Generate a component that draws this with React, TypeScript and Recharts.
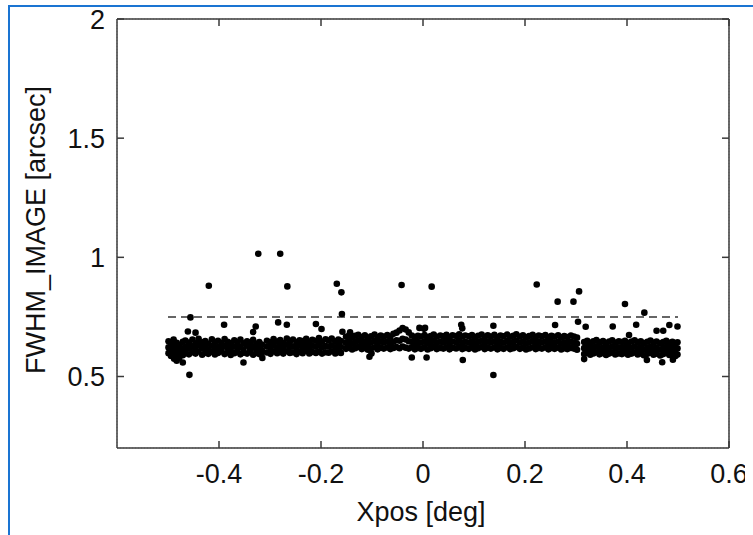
import React from 'react';
import { ScatterChart, Scatter, XAxis, YAxis, CartesianGrid, ReferenceLine } from 'recharts';

// Tick labels
const xTicks = [-0.4, -0.2, 0, 0.2, 0.4, 0.6];
const yTicks = [0.5, 1, 1.5, 2];
const xDomain = [-0.6, 0.6];
const yDomain = [0.2, 2];

// Threshold line (dashed)
const thresholdY = 0.75;
const thresholdX = [-0.5, 0.5];

// Main band columns: [x, y1, y2, y3]
const bandLeft: number[][] = [
  [-0.499, 0.598, 0.622, 0.648], [-0.494, 0.586, 0.611, 0.637], [-0.489, 0.603, 0.629, 0.655],
  [-0.483, 0.592, 0.617, 0.641], [-0.477, 0.607, 0.632, 0.600], [-0.471, 0.589, 0.614, 0.646],
  [-0.466, 0.598, 0.625, 0.651], [-0.459, 0.593, 0.619, 0.642], [-0.452, 0.602, 0.627, 0.655],
  [-0.446, 0.596, 0.615, 0.639], [-0.440, 0.605, 0.631, 0.658], [-0.433, 0.591, 0.620, 0.644],
  [-0.427, 0.600, 0.626, 0.649], [-0.421, 0.595, 0.613, 0.638], [-0.414, 0.603, 0.629, 0.656],
  [-0.408, 0.592, 0.618, 0.645], [-0.402, 0.599, 0.624, 0.650], [-0.395, 0.605, 0.616, 0.641],
  [-0.389, 0.594, 0.628, 0.657], [-0.383, 0.601, 0.621, 0.646], [-0.377, 0.590, 0.615, 0.640],
  [-0.370, 0.598, 0.626, 0.652], [-0.364, 0.603, 0.619, 0.643], [-0.358, 0.593, 0.624, 0.655],
  [-0.352, 0.600, 0.613, 0.639], [-0.345, 0.596, 0.629, 0.648], [-0.339, 0.604, 0.618, 0.642],
  [-0.333, 0.591, 0.622, 0.654], [-0.327, 0.599, 0.615, 0.637], [-0.321, 0.594, 0.620, 0.645],
  [-0.316, 0.602, 0.611, 0.634],
];

const bandMidLeft: number[][] = [
  [-0.306, 0.601, 0.626, 0.650], [-0.299, 0.595, 0.619, 0.644], [-0.293, 0.605, 0.631, 0.657],
  [-0.286, 0.598, 0.622, 0.647], [-0.280, 0.603, 0.628, 0.653], [-0.274, 0.596, 0.617, 0.641],
  [-0.267, 0.606, 0.633, 0.659], [-0.261, 0.599, 0.624, 0.648], [-0.255, 0.602, 0.627, 0.655],
  [-0.248, 0.594, 0.620, 0.645], [-0.242, 0.604, 0.630, 0.652], [-0.236, 0.598, 0.623, 0.649],
  [-0.229, 0.607, 0.632, 0.658], [-0.223, 0.597, 0.621, 0.646], [-0.217, 0.603, 0.629, 0.654],
  [-0.210, 0.599, 0.625, 0.650], [-0.204, 0.605, 0.634, 0.661], [-0.198, 0.596, 0.622, 0.647],
  [-0.191, 0.602, 0.628, 0.656], [-0.185, 0.600, 0.626, 0.651], [-0.179, 0.606, 0.631, 0.659],
  [-0.172, 0.597, 0.623, 0.648], [-0.166, 0.603, 0.629, 0.655], [-0.161, 0.599, 0.624, 0.649],
];

const bandCenter: number[][] = [
  [-0.151, 0.616, 0.641, 0.667], [-0.145, 0.621, 0.647, 0.672], [-0.139, 0.613, 0.638, 0.664],
  [-0.133, 0.619, 0.645, 0.671], [-0.127, 0.624, 0.650, 0.675], [-0.120, 0.615, 0.640, 0.666],
  [-0.114, 0.620, 0.646, 0.673], [-0.108, 0.612, 0.637, 0.662], [-0.102, 0.618, 0.644, 0.669],
  [-0.095, 0.623, 0.649, 0.676], [-0.089, 0.614, 0.639, 0.665], [-0.083, 0.621, 0.647, 0.672],
  [-0.077, 0.617, 0.643, 0.668], [-0.070, 0.622, 0.648, 0.674], [-0.064, 0.615, 0.641, 0.667],
  [-0.058, 0.620, 0.646, 0.679], [-0.052, 0.624, 0.652, 0.684], [-0.046, 0.619, 0.650, 0.693],
  [-0.040, 0.626, 0.658, 0.703], [-0.034, 0.621, 0.655, 0.697], [-0.028, 0.617, 0.648, 0.685],
  [-0.022, 0.623, 0.646, 0.672], [-0.016, 0.614, 0.640, 0.666], [-0.010, 0.620, 0.645, 0.671],
  [-0.004, 0.616, 0.642, 0.668], [0.003, 0.622, 0.648, 0.674], [0.009, 0.613, 0.639, 0.665],
  [0.015, 0.619, 0.645, 0.670], [0.021, 0.624, 0.650, 0.676], [0.027, 0.615, 0.641, 0.667],
  [0.034, 0.620, 0.646, 0.672], [0.040, 0.617, 0.643, 0.669], [0.046, 0.623, 0.649, 0.675],
  [0.052, 0.614, 0.640, 0.666], [0.058, 0.621, 0.647, 0.673], [0.065, 0.618, 0.644, 0.670],
  [0.071, 0.624, 0.651, 0.677], [0.077, 0.615, 0.641, 0.668], [0.083, 0.620, 0.646, 0.672],
  [0.090, 0.616, 0.642, 0.669], [0.096, 0.622, 0.648, 0.674], [0.102, 0.613, 0.638, 0.664],
  [0.108, 0.619, 0.645, 0.671], [0.115, 0.624, 0.650, 0.676], [0.121, 0.615, 0.640, 0.666],
  [0.127, 0.621, 0.647, 0.673], [0.133, 0.617, 0.643, 0.668], [0.140, 0.622, 0.648, 0.675],
  [0.146, 0.614, 0.639, 0.665], [0.152, 0.620, 0.646, 0.672], [0.158, 0.616, 0.642, 0.669],
  [0.165, 0.623, 0.649, 0.676], [0.171, 0.615, 0.641, 0.667], [0.177, 0.619, 0.645, 0.671],
  [0.183, 0.624, 0.651, 0.677], [0.190, 0.616, 0.642, 0.668], [0.196, 0.621, 0.647, 0.673],
  [0.202, 0.613, 0.638, 0.664], [0.208, 0.618, 0.644, 0.670], [0.215, 0.623, 0.649, 0.675],
  [0.221, 0.615, 0.640, 0.666], [0.227, 0.620, 0.646, 0.672], [0.233, 0.617, 0.643, 0.669],
  [0.240, 0.622, 0.648, 0.674], [0.246, 0.614, 0.639, 0.665], [0.252, 0.620, 0.645, 0.671],
  [0.258, 0.616, 0.641, 0.667], [0.265, 0.621, 0.647, 0.673], [0.271, 0.613, 0.638, 0.664],
  [0.277, 0.619, 0.644, 0.670], [0.283, 0.615, 0.640, 0.666], [0.290, 0.620, 0.646, 0.672],
  [0.296, 0.617, 0.642, 0.668], [0.302, 0.612, 0.637, 0.663],
];

const bandRight: number[][] = [
  [0.316, 0.594, 0.619, 0.645], [0.322, 0.599, 0.624, 0.650], [0.328, 0.591, 0.616, 0.641],
  [0.334, 0.597, 0.622, 0.648], [0.340, 0.602, 0.627, 0.653], [0.346, 0.593, 0.618, 0.643],
  [0.353, 0.598, 0.623, 0.649], [0.359, 0.590, 0.615, 0.640], [0.365, 0.596, 0.621, 0.647],
  [0.371, 0.601, 0.626, 0.652], [0.377, 0.592, 0.617, 0.642], [0.384, 0.597, 0.622, 0.648],
  [0.390, 0.594, 0.619, 0.645], [0.396, 0.599, 0.624, 0.650], [0.402, 0.591, 0.616, 0.641],
  [0.409, 0.596, 0.621, 0.647], [0.415, 0.601, 0.626, 0.652], [0.421, 0.592, 0.617, 0.643],
  [0.427, 0.597, 0.622, 0.648], [0.433, 0.589, 0.614, 0.640], [0.440, 0.595, 0.620, 0.646],
  [0.446, 0.600, 0.625, 0.651], [0.452, 0.591, 0.616, 0.642], [0.458, 0.596, 0.621, 0.647],
  [0.465, 0.588, 0.613, 0.639], [0.471, 0.594, 0.619, 0.645], [0.477, 0.599, 0.624, 0.650],
  [0.483, 0.590, 0.615, 0.641], [0.489, 0.595, 0.620, 0.646], [0.495, 0.586, 0.612, 0.638],
  [0.499, 0.592, 0.618, 0.644],
];

// Scattered points off the main band: [x, y]
const outliers: number[][] = [
  [-0.420, 0.881], [-0.323, 1.015], [-0.280, 1.015], [-0.266, 0.878], [-0.169, 0.889],
  [-0.160, 0.853], [-0.159, 0.762], [-0.042, 0.884], [-0.456, 0.748], [-0.461, 0.689],
  [-0.446, 0.684], [-0.458, 0.507], [-0.483, 0.566], [-0.471, 0.559], [-0.488, 0.575],
  [-0.352, 0.559], [-0.390, 0.717], [-0.328, 0.710], [-0.333, 0.687], [-0.284, 0.727],
  [-0.267, 0.717], [-0.210, 0.720], [-0.199, 0.699], [-0.158, 0.688], [-0.143, 0.685],
  [-0.105, 0.583], [-0.101, 0.597], [-0.022, 0.580], [-0.007, 0.704], [0.004, 0.704],
  [0.017, 0.877], [0.223, 0.886], [0.264, 0.814], [0.295, 0.814], [0.306, 0.857],
  [0.396, 0.804], [0.434, 0.768], [0.304, 0.730], [0.319, 0.709], [0.259, 0.716],
  [0.138, 0.713], [0.075, 0.717], [0.077, 0.702], [0.372, 0.710], [0.418, 0.717],
  [0.404, 0.674], [0.458, 0.692], [0.471, 0.692], [0.483, 0.716], [0.499, 0.710],
  [0.138, 0.506], [0.078, 0.569], [0.439, 0.569], [0.469, 0.560], [0.490, 0.570],
  [0.316, 0.573], [0.007, 0.580], [0.002, 0.700], [-0.315, 0.578], [-0.478, 0.578],
];

const columnsToPoints = (cols: number[][]) =>
  cols.flatMap((c) => c.slice(1).map((y) => ({ x: c[0], y })));

const points = [
  ...columnsToPoints(bandLeft),
  ...columnsToPoints(bandMidLeft),
  ...columnsToPoints(bandCenter),
  ...columnsToPoints(bandRight),
  ...outliers.map(([x, y]) => ({ x, y })),
];

const FONT = 'Liberation Sans, Arial, Helvetica, sans-serif';
const FRAME = '#3a3a3a';
const BLUE = '#1a74d2';
const W = 745;
const H = 527;

const Dot = (p: any) => <circle cx={p.cx} cy={p.cy} r={3.3} fill="#000" />;

const BottomTick = (p: any) => (
  <g>
    <line x1={p.x} y1={448} x2={p.x} y2={441} stroke={FRAME} strokeWidth={1.5} />
    <text x={p.x} y={483} textAnchor="middle" fontFamily={FONT} fontSize={27} fill="#111">
      {p.payload.value}
    </text>
  </g>
);
const TopTick = (p: any) => (
  <line x1={p.x} y1={19} x2={p.x} y2={26} stroke={FRAME} strokeWidth={1.5} />
);
const LeftTick = (p: any) => (
  <g>
    <line x1={109} y1={p.y} x2={116} y2={p.y} stroke={FRAME} strokeWidth={1.5} />
    <text x={97} y={p.y + 9.7} textAnchor="end" fontFamily={FONT} fontSize={27} fill="#111">
      {p.payload.value}
    </text>
  </g>
);
const RightTick = (p: any) => (
  <line x1={721} y1={p.y} x2={714} y2={p.y} stroke={FRAME} strokeWidth={1.5} />
);

export default function App() {
  return (
    <div style={{ position: 'relative', width: W, height: H, marginTop: -8 }}>
      <div
        style={{
          position: 'fixed',
          zIndex: 1000,
          left: 8,
          top: 5,
          width: 745,
          height: 2,
          background: BLUE,
        }}
      />
      <div
        style={{
          position: 'fixed',
          zIndex: 1000,
          left: 8,
          top: 5,
          width: 2,
          height: 530,
          background: BLUE,
        }}
      />
      <ScatterChart
        width={W}
        height={H}
        margin={{ top: 18, right: 23, bottom: 19, left: 49 }}
        style={{ overflow: 'visible' }}
      >
        <CartesianGrid stroke="#b5b5b5" strokeDasharray="1 2" strokeWidth={1} />
        <XAxis
          xAxisId="b"
          type="number"
          dataKey="x"
          domain={xDomain}
          ticks={xTicks}
          allowDataOverflow
          height={60}
          tickSize={0}
          tickMargin={0}
          tickLine={false}
          axisLine={{ stroke: FRAME, strokeWidth: 1.5 }}
          tick={BottomTick}
          interval={0}
        />
        <XAxis
          xAxisId="t"
          orientation="top"
          type="number"
          dataKey="x"
          domain={xDomain}
          ticks={xTicks}
          allowDataOverflow
          height={1}
          tickSize={0}
          tickMargin={0}
          tickLine={false}
          axisLine={{ stroke: FRAME, strokeWidth: 1.5 }}
          tick={TopTick}
          interval={0}
        />
        <YAxis
          yAxisId="l"
          type="number"
          dataKey="y"
          domain={yDomain}
          ticks={yTicks}
          allowDataOverflow
          width={60}
          tickSize={0}
          tickMargin={0}
          tickLine={false}
          axisLine={{ stroke: FRAME, strokeWidth: 1.5 }}
          tick={LeftTick}
          interval={0}
        />
        <YAxis
          yAxisId="r"
          orientation="right"
          type="number"
          dataKey="y"
          domain={yDomain}
          ticks={yTicks}
          allowDataOverflow
          width={1}
          tickSize={0}
          tickMargin={0}
          tickLine={false}
          axisLine={{ stroke: FRAME, strokeWidth: 1.5 }}
          tick={RightTick}
          interval={0}
        />
        <ReferenceLine
          xAxisId="b"
          yAxisId="l"
          segment={[{ x: thresholdX[0], y: thresholdY }, { x: thresholdX[1], y: thresholdY }]}
          stroke="#666"
          strokeWidth={2}
          strokeDasharray="8 5"
        />
        <Scatter
          xAxisId="b"
          yAxisId="l"
          data={points}
          shape={Dot}
          isAnimationActive={false}
        />
      </ScatterChart>
      <div
        style={{
          position: 'absolute',
          left: 28,
          top: 230,
          transform: 'translate(-50%, -50%) rotate(-90deg)',
          whiteSpace: 'nowrap',
          fontFamily: FONT,
          fontSize: 27,
          color: '#111',
        }}
      >
        FWHM_IMAGE [arcsec]
      </div>
      <div
        style={{
          position: 'absolute',
          left: 413,
          top: 512,
          transform: 'translate(-50%, -50%)',
          whiteSpace: 'nowrap',
          fontFamily: FONT,
          fontSize: 27,
          color: '#111',
        }}
      >
        Xpos [deg]
      </div>
    </div>
  );
}
